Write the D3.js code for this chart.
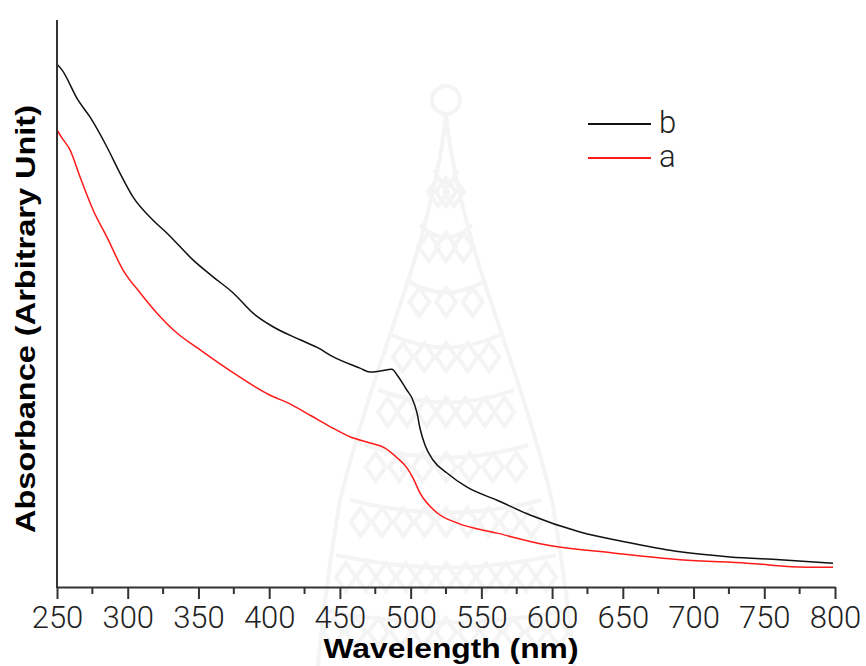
<!DOCTYPE html>
<html>
<head>
<meta charset="utf-8">
<script src="https://cdn.jsdelivr.net/npm/d3@7"></script>
<style>
  html, body { margin: 0; padding: 0; background: #fff; }
  svg { display: block; }
</style>
</head>
<body>
<svg id="chart" width="866" height="666"></svg>
<script>
// Absorption spectra, arbitrary units
const wavelengthB = [250, 253.5, 264.8, 273.3, 285.3, 294.5, 303.7, 317.9, 327.8, 346.1, 360.3, 374.4, 388.6, 402.7, 421.8, 435.9, 443.0, 464.2, 471.3, 478.4, 486.8, 490.4, 497.4, 501.0, 504.5, 506.6, 510.2, 515.8, 525.7, 539.9, 561.1, 584.4, 619.7, 655.1, 690.4, 725.8, 761.1, 798.6];
const absorbanceB = [0.922, 0.912, 0.859, 0.829, 0.776, 0.730, 0.688, 0.647, 0.624, 0.577, 0.547, 0.519, 0.483, 0.459, 0.436, 0.420, 0.409, 0.386, 0.379, 0.381, 0.384, 0.374, 0.347, 0.333, 0.307, 0.280, 0.250, 0.224, 0.201, 0.176, 0.153, 0.127, 0.097, 0.078, 0.062, 0.053, 0.048, 0.042];

const wavelengthA = [250, 253.5, 259.2, 266.3, 275.5, 285.3, 296.7, 308.7, 320.7, 334.8, 349.0, 375.0, 400.0, 414.7, 429.6, 443.0, 457.1, 471.3, 481.9, 490.4, 497.4, 501.7, 506.6, 518.6, 532.8, 561.1, 596.4, 643.1, 690.4, 737.8, 780.2, 798.6];
const absorbanceA = [0.806, 0.792, 0.771, 0.723, 0.665, 0.617, 0.559, 0.519, 0.483, 0.448, 0.422, 0.377, 0.339, 0.323, 0.302, 0.283, 0.265, 0.254, 0.245, 0.228, 0.210, 0.192, 0.166, 0.131, 0.113, 0.095, 0.074, 0.060, 0.048, 0.042, 0.035, 0.035];

const seriesNames = ["b", "a"];
const seriesColors = ["#111111", "#ff1a1a"];
const xTickValues = [250, 300, 350, 400, 450, 500, 550, 600, 650, 700, 750, 800];
const xTitle = "Wavelength (nm)";
const yTitle = "Absorbance (Arbitrary Unit)";

const svg = d3.select("#chart");
const plotLeft = 57, plotRight = 835, plotTop = 20, plotBottom = 587;

const x = d3.scaleLinear().domain([250, 800]).range([plotLeft, plotRight]);
const y = d3.scaleLinear().domain([0, 1]).range([plotBottom, plotTop]);

// faint background ornament
const wm = svg.append("g").attr("fill", "none").attr("stroke", "#f4f4f4").attr("stroke-width", 4);
wm.append("circle").attr("cx", 446).attr("cy", 100).attr("r", 14);
wm.append("path").attr("d", "M446,115 C440,170 425,230 405,290 C385,350 360,420 340,500 C330,560 322,620 318,666 M446,115 C452,170 467,230 487,290 C507,350 532,420 552,500 C562,560 570,620 574,666");
for (let i = 0; i < 9; i++) {
  const yy = 170 + i * 55;
  const half = 12 + i * 14;
  wm.append("path").attr("d", `M${446 - half},${yy} Q446,${yy + 25} ${446 + half},${yy}`);
  const n = Math.max(1, Math.floor(half / 22));
  for (let k = -n; k <= n; k++) {
    const cx = 446 + k * (half / (n + 0.5));
    wm.append("path").attr("d", `M${cx},${yy + 8} l10,14 l-10,14 l-10,-14 z`);
  }
}

// series lines
const line = d3.line().curve(d3.curveMonotoneX).x(d => x(d[0])).y(d => y(d[1]));
const dataB = wavelengthB.map((w, i) => [w, absorbanceB[i]]);
const dataA = wavelengthA.map((w, i) => [w, absorbanceA[i]]);

svg.append("path").datum(dataB).attr("d", line)
  .attr("fill", "none").attr("stroke", seriesColors[0]).attr("stroke-width", 1.5);
svg.append("path").datum(dataA).attr("d", line)
  .attr("fill", "none").attr("stroke", seriesColors[1]).attr("stroke-width", 1.5);

// axes
const axisColor = "#333333";
svg.append("line").attr("x1", plotLeft).attr("x2", plotLeft).attr("y1", plotTop).attr("y2", plotBottom + 1)
  .attr("stroke", axisColor).attr("stroke-width", 2);

const xAxis = d3.axisBottom(x).tickValues(xTickValues).tickSize(12).tickSizeOuter(0).tickFormat(d3.format("d"));
const gx = svg.append("g").attr("transform", `translate(0,${plotBottom})`).call(xAxis);
gx.select(".domain").attr("stroke", axisColor).attr("stroke-width", 2);
gx.selectAll(".tick line").attr("stroke", axisColor).attr("stroke-width", 2);
gx.selectAll(".tick text")
  .attr("y", 41).attr("dy", 0)
  .attr("fill", "#222")
  .style("font-family", "Roboto, 'Liberation Sans', sans-serif")
  .style("font-weight", 300)
  .style("font-size", "31px");

const minorTicks = xTickValues.slice(0, -1).map(v => v + 25);
svg.append("g").selectAll("line").data(minorTicks).join("line")
  .attr("x1", d => x(d)).attr("x2", d => x(d))
  .attr("y1", plotBottom).attr("y2", plotBottom + 7)
  .attr("stroke", axisColor).attr("stroke-width", 2);

// titles
svg.append("text")
  .attr("x", 451).attr("y", 658)
  .attr("text-anchor", "middle")
  .attr("textLength", 255).attr("lengthAdjust", "spacingAndGlyphs")
  .style("font-family", "'Liberation Sans', Arial, sans-serif")
  .style("font-weight", "bold").style("font-size", "28px")
  .attr("fill", "#000")
  .text(xTitle);

svg.append("text")
  .attr("transform", "translate(35,319) rotate(-90)")
  .attr("text-anchor", "middle")
  .attr("textLength", 428).attr("lengthAdjust", "spacingAndGlyphs")
  .style("font-family", "'Liberation Sans', Arial, sans-serif")
  .style("font-weight", "bold").style("font-size", "28px")
  .attr("fill", "#000")
  .text(yTitle);

// legend
const legendY = [124, 158];
const legend = svg.append("g");
seriesNames.forEach((name, i) => {
  legend.append("line")
    .attr("x1", 588).attr("x2", 651)
    .attr("y1", legendY[i]).attr("y2", legendY[i])
    .attr("stroke", seriesColors[i]).attr("stroke-width", 2);
  legend.append("text")
    .attr("x", 659).attr("y", legendY[i] + 9)
    .style("font-family", "Roboto, 'Liberation Sans', sans-serif")
    .style("font-weight", 300)
    .style("font-size", "31px")
    .attr("fill", "#222")
    .text(name);
});
</script>
</body>
</html>
